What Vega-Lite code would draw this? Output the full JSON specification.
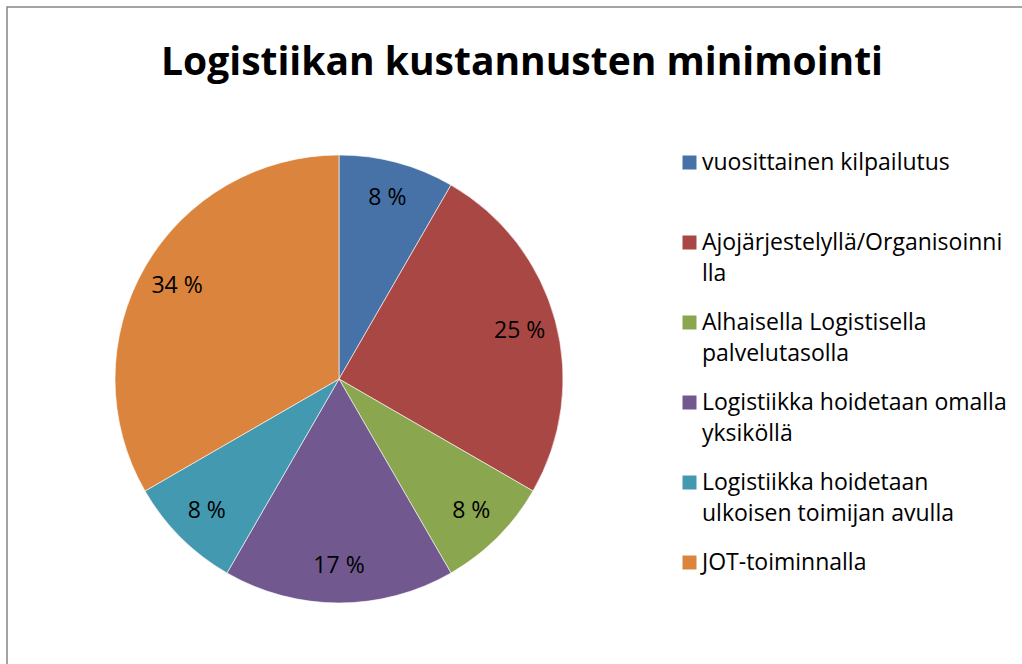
{
  "$schema": "https://vega.github.io/schema/vega-lite/v6.json",
  "width": 1030,
  "height": 670,
  "autosize": {"type": "none"},
  "padding": {"left": 7, "top": 7, "right": 0, "bottom": 0},
  "background": "white",
  "view": {"stroke": "#868686", "strokeWidth": 1.5},
  "config": {
    "view": {"stroke": "#868686", "strokeWidth": 1.5},
    "style": {"guide-label": {"lineHeight": 31}}
  },
  "title": {
    "text": "Logistiikan kustannusten minimointi",
    "font": "Open Sans",
    "fontSize": 39,
    "fontWeight": "bold",
    "color": "#000000",
    "anchor": "middle",
    "offset": -107,
    "baseline": "alphabetic"
  },
  "data": {
    "values": [
      {"i": 1, "category": "vuosittainen kilpailutus", "value": 8.33, "label": "8 %"},
      {"i": 2, "category": "Ajojärjestelyllä/Organisoinni|lla", "value": 25, "label": "25 %"},
      {"i": 3, "category": "Alhaisella Logistisella|palvelutasolla", "value": 8.33, "label": "8 %"},
      {"i": 4, "category": "Logistiikka hoidetaan omalla|yksiköllä", "value": 16.67, "label": "17 %"},
      {"i": 5, "category": "Logistiikka hoidetaan|ulkoisen toimijan avulla", "value": 8.33, "label": "8 %"},
      {"i": 6, "category": "JOT-toiminnalla", "value": 33.33, "label": "34 %"}
    ]
  },
  "encoding": {
    "theta": {"field": "value", "type": "quantitative", "stack": true},
    "order": {"field": "i", "type": "quantitative"}
  },
  "layer": [
    {
      "mark": {"type": "arc", "outerRadius": 224, "x": 332, "y": 372, "stroke": "#ffffff", "strokeWidth": 0.6},
      "encoding": {
        "color": {
          "field": "category",
          "type": "nominal",
          "scale": {
            "domain": [
              "vuosittainen kilpailutus",
              "Ajojärjestelyllä/Organisoinni|lla",
              "Alhaisella Logistisella|palvelutasolla",
              "Logistiikka hoidetaan omalla|yksiköllä",
              "Logistiikka hoidetaan|ulkoisen toimijan avulla",
              "JOT-toiminnalla"
            ],
            "range": ["#4672A8", "#A94744", "#8AA64E", "#71598F", "#4299B0", "#DB843D"]
          },
          "legend": {
            "orient": "none",
            "legendX": 671,
            "legendY": 144,
            "title": null,
            "symbolType": "square",
            "symbolSize": 196,
            "symbolStrokeWidth": 0,
            "labelFont": "Open Sans",
            "labelFontSize": 23,
            "labelColor": "#000000",
            "labelLimit": 400,
            "labelOffset": 1,
            "gridAlign": "all",
            "rowPadding": 25,
            "labelExpr": "split(datum.label, '|')"
          }
        }
      }
    },
    {
      "mark": {"type": "text", "radius": 187, "x": 332, "y": 372, "font": "Open Sans", "fontSize": 23, "color": "#000000"},
      "encoding": {
        "text": {"field": "label", "type": "nominal"}
      }
    }
  ]
}
